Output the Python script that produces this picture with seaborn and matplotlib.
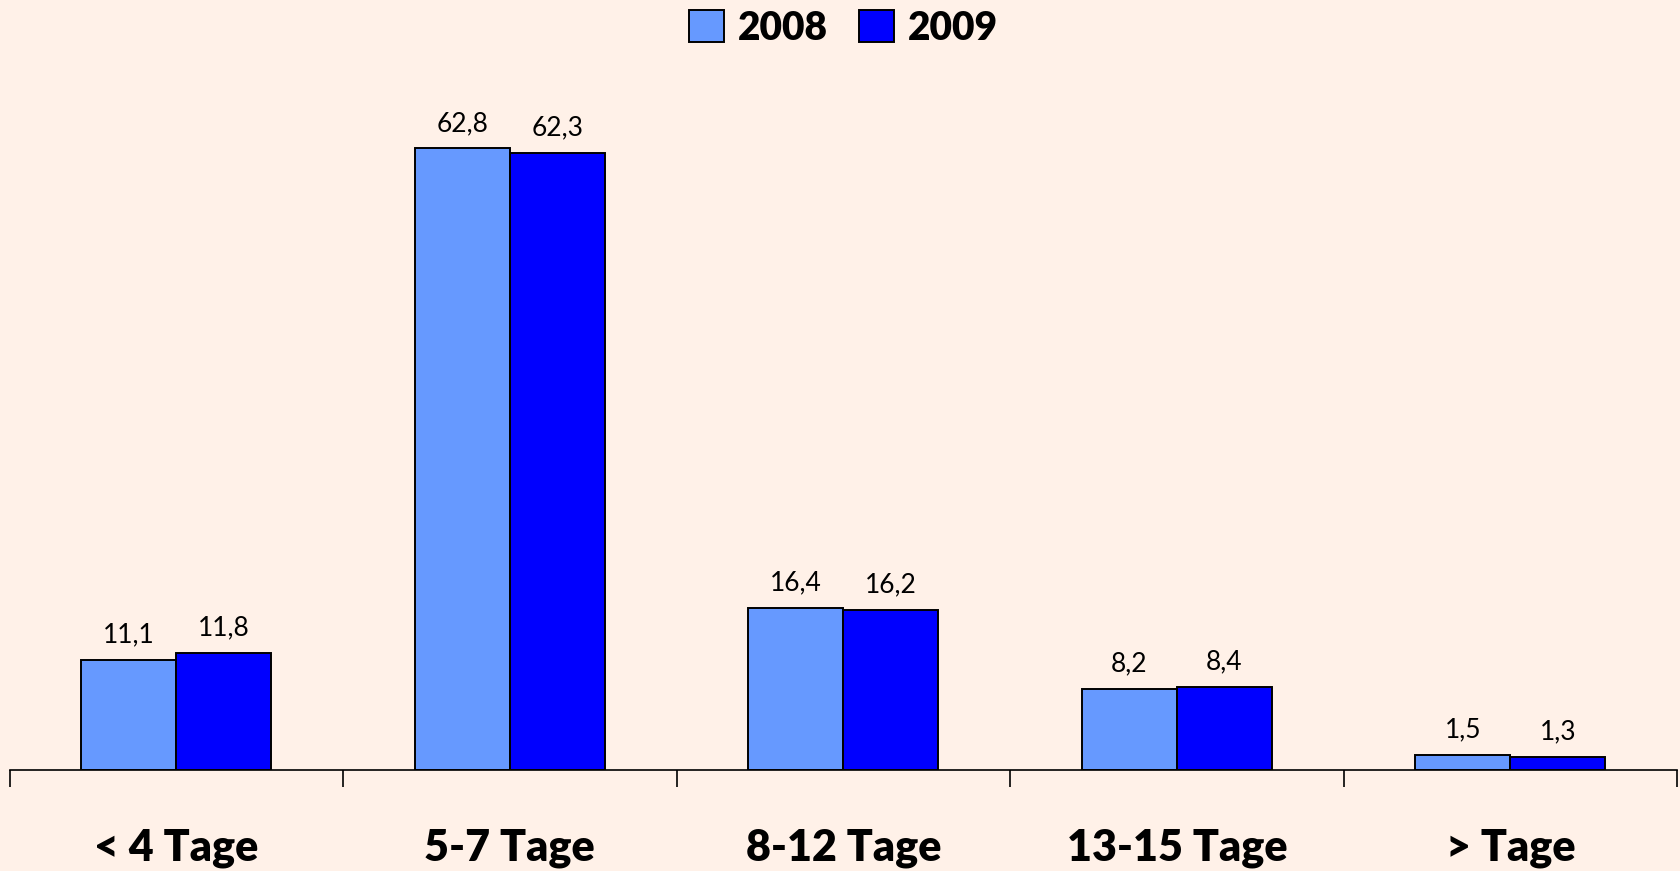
import matplotlib
matplotlib.use("Agg")
import matplotlib.pyplot as plt
import seaborn as sns
import pandas as pd
import numpy as np

categories = ["< 4 Tage", "5-7 Tage", "8-12 Tage", "13-15 Tage", "> Tage"]
years = ["2008", "2009"]
values_2008 = [11.1, 62.8, 16.4, 8.2, 1.5]
values_2009 = [11.8, 62.3, 16.2, 8.4, 1.3]

df = pd.DataFrame({
    "cat": categories * 2,
    "year": [years[0]] * 5 + [years[1]] * 5,
    "val": values_2008 + values_2009,
})

sns.set_theme(style="white")
plt.rcParams["font.family"] = ["Lato", "DejaVu Sans"]
plt.rcParams["text.color"] = "black"
plt.rcParams["xtick.color"] = "black"
bg = "#FFF1E8"
fig = plt.figure(figsize=(16.81, 8.71), dpi=100, facecolor=bg)
ax = fig.add_axes([0.0057, 0.116, 0.992, 0.7955])
ax.set_facecolor(bg)

sns.barplot(data=df, x="cat", y="val", hue="year", order=categories, hue_order=years,
            palette=["#6699FF", "#0000FF"], width=0.57, edgecolor="black", linewidth=1.4,
            ax=ax, saturation=1)

for cont in ax.containers:
    labels = [f"{v:.1f}".replace(".", ",") for v in cont.datavalues]
    ax.bar_label(cont, labels=labels, padding=9, fontsize=19, color="black")

ax.set_xlim(-0.5, 4.5)
ax.set_ylim(0, 70)
ax.set_xlabel("")
ax.set_ylabel("")
ax.set_yticks([])
for s in ["top", "right", "left"]:
    ax.spines[s].set_visible(False)
ax.spines["bottom"].set_color("black")
ax.spines["bottom"].set_linewidth(1.2)
ax.set_xticks(np.arange(-0.5, 5, 1), minor=True)
ax.tick_params(axis="x", which="minor", length=12, width=1.2, color="black", bottom=True)
ax.tick_params(axis="x", which="major", length=0, pad=42, labelsize=31, labelcolor="black")
for t in ax.get_xticklabels():
    t.set_fontweight("heavy")

leg = ax.legend(loc="upper center", bbox_to_anchor=(0.5, 1.148), ncol=2, frameon=False,
                prop={"weight": "heavy", "size": 28}, handlelength=0.9, handleheight=0.9,
                handletextpad=0.35, columnspacing=0.8, labelcolor="black")

fig.savefig("out.png", dpi=100, facecolor=bg)
